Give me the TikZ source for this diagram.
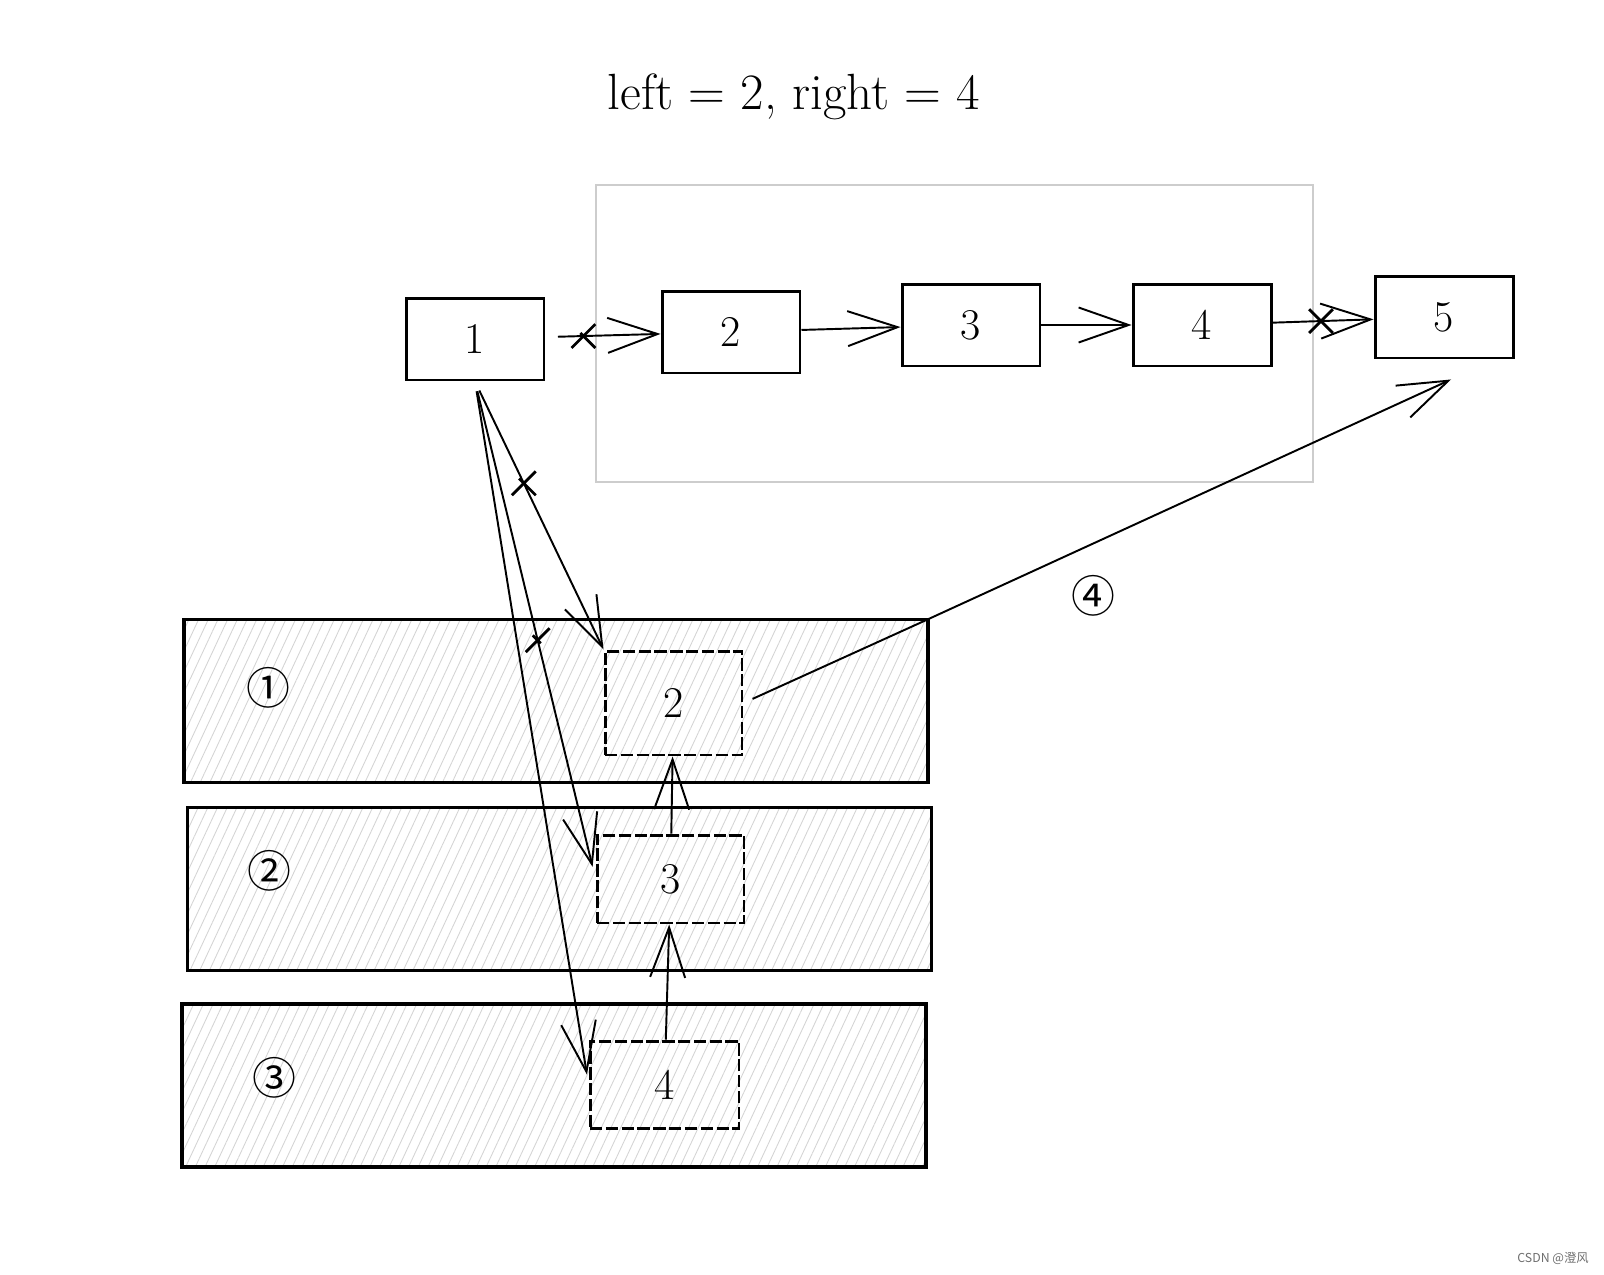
\documentclass[tikz,border=0pt]{standalone}
\usepackage{fontspec}
\usepackage{tikz}
\usetikzlibrary{arrows,arrows.meta,patterns.meta,shapes.misc}
\newfontfamily\cjkfont{Noto Sans CJK SC}
\definecolor{frame_gray}{RGB}{205,205,205}
\definecolor{hatch_gray}{RGB}{212,212,212}
\definecolor{mark_gray}{RGB}{110,110,110}

\begin{document}
\begin{tikzpicture}[->,line width=1.1pt,>={Straight Barb[length=1cm,width=0.7cm,line width=1.1pt]},x=0.02cm,y=-0.02cm]
    \tikzstyle{headline}=[text=black,font=\fontsize{29}{34}\selectfont]
    \tikzstyle{box}=[draw=black,line width=1.7pt,rectangle,minimum width=2.76cm,minimum height=1.64cm,font=\fontsize{25}{30}\selectfont,text=black]
    \tikzstyle{slot}=[style=box,dash pattern=on 7pt off 2pt]
    \tikzstyle{band}=[draw=black,line width=2pt,minimum width=14.88cm,minimum height=3.26cm,pattern={Lines[angle=65,distance=5pt,line width=0.5pt]},pattern color=hatch_gray]
    \tikzstyle{circ}=[text=black,font=\cjkfont\fontsize{25}{30}\selectfont]
    \tikzstyle{cut}=[-,cross out,draw,line width=1.6pt,minimum size=0.42cm,inner sep=0pt]
    \useasboundingbox (0,0) rectangle (1604,1274);

    \node[headline] (title) at (794,97) {left = 2, right = 4};
    \node[draw=frame_gray,line width=1.2pt,minimum width=14.34cm,minimum height=5.94cm] (frame) at (954.5,333.5) {};

    % the three passes
    \node[band] (p1) at (556,701)    {};
    \node[band] (p2) at (559.5,889)  {};
    \node[band] (p3) at (554,1085.5) {};
    \node[circ] (c1) at (268,688)  {①};
    \node[circ] (c2) at (269,871)  {②};
    \node[circ] (c3) at (274,1078) {③};
    \node[circ] (c4) at (1093,596) {④};

    \node[slot,minimum width=2.74cm,minimum height=2.08cm] (b2) at (673.5,703)  {2};
    \node[slot,minimum width=2.94cm,minimum height=1.76cm] (b3) at (670.5,879)  {3};
    \node[slot,minimum width=2.98cm,minimum height=1.74cm] (b4) at (664.5,1084.5) {4};

    % the list
    \node[box] (t1) at (475,339) {1};
    \node[box] (t2) at (731,332) {2};
    \node[box] (t3) at (971,325) {3};
    \node[box] (t4) at (1202,325) {4};
    \node[box] (t5) at (1444,317) {5};

    \path
     (t1) edge[shorten <=0.25cm] node[cut,pos=0.33] {} (t2)
     (t2) edge (t3)
     (t3) edge (t4)
     (t4) edge node[cut,pos=0.48] {} (t5)
     (t1.south) edge[shorten <=0.2cm] node[cut,pos=0.38] {} (b2.north west)
     (t1.south) edge[shorten <=0.2cm,shorten >=0.25cm] node[cut,pos=0.52] {} (b3.west)
     (t1.south) edge[shorten <=0.2cm,shorten >=0.2cm] (b4.west)
     (b4) edge (b3)
     (b3) edge (b2);
    \draw[shorten <=0.2cm] (b2.east) -- (p1.north east) -- ([shift={(7,20)}]t5.south);

    \node[text=mark_gray,font=\cjkfont\fontsize{7}{8}\selectfont] (mark) at (1553,1258) {CSDN @澄风};
\end{tikzpicture}
\end{document}
